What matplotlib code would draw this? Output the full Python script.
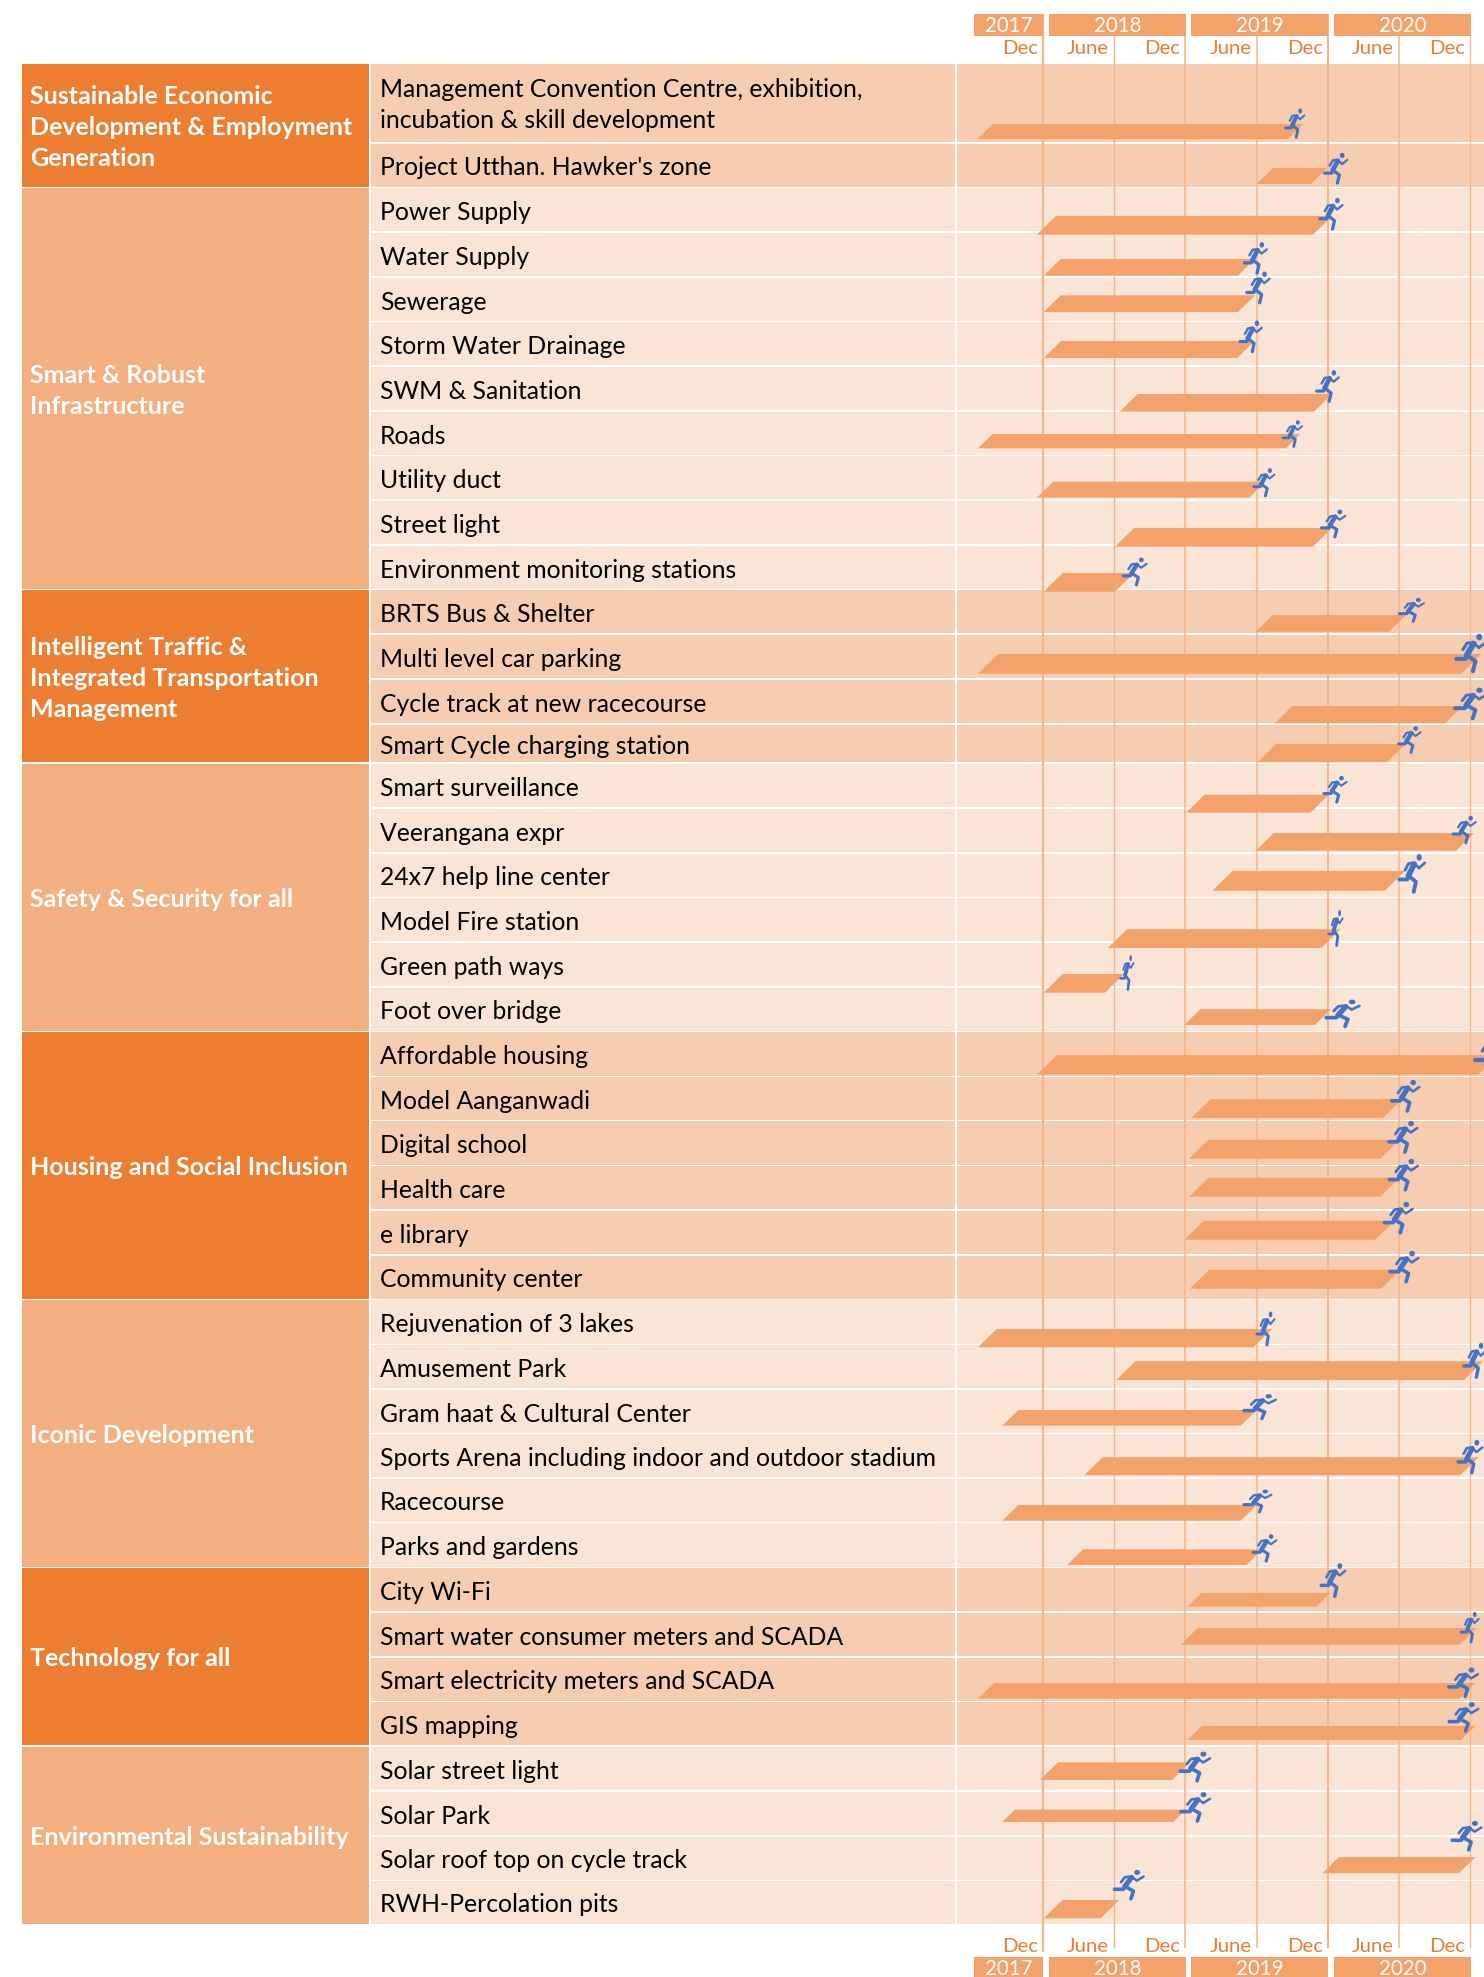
import matplotlib
matplotlib.use("Agg")
import matplotlib.pyplot as plt
from matplotlib.patches import Polygon, Rectangle, Ellipse

plt.rcParams['font.family'] = ['Lato', 'DejaVu Sans']

W, H = 1484, 1977

categories = [
    "Sustainable Economic\nDevelopment & Employment\nGeneration",
    "Smart & Robust\nInfrastructure",
    "Intelligent Traffic &\nIntegrated Transportation\nManagement",
    "Safety & Security for all",
    "Housing and Social Inclusion",
    "Iconic Development",
    "Technology for all",
    "Environmental Sustainability",
]
category_sizes = [2, 9, 4, 6, 6, 6, 4, 4]

items = [
    "Management Convention Centre, exhibition,\nincubation & skill development",
    "Project Utthan. Hawker's zone",
    "Power Supply", "Water Supply", "Sewerage", "Storm Water Drainage",
    "SWM & Sanitation", "Roads", "Utility duct", "Street light",
    "Environment monitoring stations",
    "BRTS Bus & Shelter", "Multi level car parking",
    "Cycle track at new racecourse", "Smart Cycle charging station",
    "Smart surveillance", "Veerangana expr", "24x7 help line center",
    "Model Fire station", "Green path ways", "Foot over bridge",
    "Affordable housing", "Model Aanganwadi", "Digital school", "Health care",
    "e library", "Community center",
    "Rejuvenation of 3 lakes", "Amusement Park", "Gram haat & Cultural Center",
    "Sports Arena including indoor and outdoor stadium", "Racecourse",
    "Parks and gardens",
    "City Wi-Fi", "Smart water consumer meters and SCADA",
    "Smart electricity meters and SCADA", "GIS mapping",
    "Solar street light", "Solar Park", "Solar roof top on cycle track",
    "RWH-Percolation pits",
]

# months counted from Dec 2017
bar_start = [-5.54, 18.0, -0.52, 0.06, 0.06, 0.06, 6.46, -5.48, -0.52, 6.06, 0.06,
             17.92, -5.48, 19.52, 18.06,
             12.06, 17.92, 14.27, 5.46, 0.06, 11.89,
             -0.52, 12.49, 12.29, 12.32, 11.92, 12.37,
             -5.48, 6.17, -3.42, 3.47, -3.42, 2.04,
             12.17, 11.6, -5.48, 12.17,
             -0.26, -3.42, 23.54, 0.06]
bar_end = [21.91, 23.94, 24.35, 17.86, 17.86, 17.83, 24.35, 21.68, 18.75, 24.35, 7.67,
           30.58, 36.92, 35.37, 30.55,
           24.09, 36.32, 30.49, 25.06, 6.83, 24.26,
           38.36, 30.26, 30.06, 30.06, 29.63, 30.12,
           19.29, 37.07, 18.0, 36.69, 18.0, 18.49,
           24.2, 36.52, 36.43, 36.43,
           12.4, 12.03, 36.43, 6.43]
bar_top = [124, 168, 216, 259, 295.3, 341, 394, 434, 481.7, 528, 573,
           615, 654, 706, 744,
           794.7, 833, 871, 929.3, 974, 1009.3,
           1055, 1099, 1139.7, 1177.7, 1220.7, 1269.7,
           1329, 1361.3, 1410, 1457.3, 1505, 1549.3,
           1593, 1628, 1683, 1726,
           1762.3, 1809.7, 1857, 1900]
bar_bottom = [139.3, 184, 234.7, 275.7, 312, 358, 411.7, 448.3, 497.7, 546.7, 591.7,
              631.7, 673.7, 723.3, 762.3,
              812.7, 850.7, 890.7, 948, 992.7, 1025,
              1074.7, 1118, 1158.7, 1196.7, 1239.7, 1288.7,
              1347.3, 1380, 1425.7, 1475.3, 1520.7, 1565,
              1606.7, 1644.7, 1698.7, 1740,
              1780, 1822, 1873.3, 1918.3]

run_left = [20.38, 23.66, 23.26, 16.91, 17.11, 16.54, 23.0, 20.16, 17.71, 23.4, 6.69,
            29.95, 34.74, 34.63, 29.89,
            23.6, 34.48, 29.95, 24.03, 6.49, 23.77,
            36.32, 29.31, 29.08, 29.11, 28.68, 29.17,
            17.97, 35.4, 16.85, 34.91, 16.85, 17.63,
            23.37, 35.17, 34.11, 34.14,
            11.48, 11.54, 34.4, 5.94]
run_right = [22.08, 25.7, 25.29, 18.92, 19.15, 18.49, 24.98, 21.88, 19.55, 25.52, 8.79,
             32.16, 37.38, 37.44, 31.87,
             25.64, 36.52, 32.24, 25.29, 7.67, 26.76,
             39.1, 31.78, 31.61, 31.64, 31.21, 31.7,
             19.55, 37.38, 19.7, 37.07, 19.32, 19.72,
             25.52, 36.75, 36.72, 36.75,
             14.15, 14.15, 37.01, 8.56]
run_top = [108.7, 153, 198, 242.3, 271.7, 320.7, 370.3, 420.3, 468.3, 509.7, 557.7,
           598, 634, 687.7, 726.3,
           776, 816, 854.3, 910.3, 955.3, 999.7,
           1036, 1080, 1121, 1159, 1202, 1251,
           1311.7, 1343, 1394.3, 1440, 1489.7, 1534.3,
           1563.3, 1612, 1667.7, 1702.3,
           1751.7, 1792.3, 1821, 1870]
run_bottom = [138.3, 184, 230, 274, 303.7, 352.7, 402.3, 447.3, 496.7, 537.7, 585.7,
              622, 672.3, 719.3, 753.3,
              803, 843.7, 893, 946.7, 990.7, 1027.3,
              1073, 1112, 1153, 1190.7, 1233.7, 1282.7,
              1346, 1378.3, 1419.3, 1473.7, 1512.7, 1562,
              1597.3, 1643, 1697.3, 1732,
              1781.7, 1822, 1850.7, 1899.7]

row_bottom = [143.7, 188, 232.7, 277.7, 322.3, 366.7, 411.7, 456.3, 501, 545.7, 590.3,
              634.7, 679.7, 724.7, 763.7,
              808.7, 853.7, 898, 942.7, 987.7, 1032,
              1077, 1121.3, 1166, 1210.7, 1255.7, 1300,
              1345, 1389.7, 1434.3, 1478.7, 1523.3, 1568.3,
              1612.7, 1657.7, 1702, 1746.7,
              1791.7, 1836.5, 1881, 1925]
table_top = 64

years = ["2017", "2018", "2019", "2020"]
year_start = [-5.83, 0.5, 12.47, 24.52]
year_end = [0, 12.05, 24.01, 36.06]
tick_months = [0, 6, 12, 18, 24, 30, 36]
tick_labels = ["Dec", "June", "Dec", "June", "Dec", "June", "Dec"]
tick_widths = [2.2, 1.4, 1.6, 1.5, 2.0, 1.5, 1.3]
tick_starts = [14, 36, 36, 36, 14, 36, 36]
tick_ends = [1952, 1948, 1948, 1948, 1948, 1948, 1948]

ORANGE = "#ED7D31"
ORANGE_LIGHT = "#F4AF81"
ROW_DARK = "#F6CDB1"
ROW_LIGHT = "#FAE4D6"
BAR = "#F3A26B"
LINE = "#F4B58A"
RUNNER = "#4472C4"
PX_PER_MONTH = 11.87

fig = plt.figure(figsize=(W / 100, H / 100), dpi=100)
fig.patch.set_facecolor("white")

# table part, in pixels
ax = fig.add_axes([0, 0, 1, 1])
ax.set_xlim(0, W)
ax.set_ylim(H, 0)
ax.axis("off")

# gantt part: x in months, y in pixels
gx0 = 957
gax = fig.add_axes([gx0 / W, 0, (W - gx0) / W, 1])
gax.set_xlim((gx0 - 1043) / PX_PER_MONTH, (W - 1043) / PX_PER_MONTH)
gax.set_ylim(H, 0)
gax.axis("off")
gax.patch.set_alpha(0)

row = 0
for c, name in enumerate(categories):
    n = category_sizes[c]
    top = table_top if row == 0 else row_bottom[row - 1]
    bottom = row_bottom[row + n - 1]
    dark = c % 2 == 0
    ax.add_patch(Rectangle((22, top), 347, bottom - top - 1.5, fc=ORANGE if dark else ORANGE_LIGHT, ec="none"))
    ax.text(30.5, (top + bottom) / 2 + 1.5, name, color="white", fontsize=18, fontweight="bold",
            va="center", ha="left", linespacing=1.42)
    for r in range(row, row + n):
        rtop = table_top if r == 0 else row_bottom[r - 1]
        rh = row_bottom[r] - rtop - 1.5
        col = ROW_DARK if dark else ROW_LIGHT
        ax.add_patch(Rectangle((371, rtop), 584, rh, fc=col, ec="none"))
        ax.add_patch(Rectangle((957, rtop), W - 957, rh, fc=col, ec="none"))
        if "\n" in items[r]:
            ax.text(380, (rtop + row_bottom[r]) / 2 + 1, items[r], color="black", fontsize=17.85,
                    va="center", ha="left", linespacing=1.42)
        else:
            ax.text(380, (rtop + row_bottom[r]) / 2 + 9.5, items[r], color="black", fontsize=17.85,
                    va="baseline", ha="left")
    row += n

for m, lab, lw, y0, y1 in zip(tick_months, tick_labels, tick_widths, tick_starts, tick_ends):
    gax.plot([m, m], [y0, y1], color=LINE, lw=lw * 0.72, solid_capstyle="butt", zorder=2)
    lx = m - 5 / PX_PER_MONTH
    gax.text(lx, 49, lab, color=ORANGE, fontsize=14.6, ha="right", va="center")
    gax.text(lx, 1946, lab, color=ORANGE, fontsize=14.6, ha="right", va="center")

for name, a, b in zip(years, year_start, year_end):
    gax.add_patch(Rectangle((a, 14), b - a, 22, fc=BAR, ec="none", zorder=3))
    gax.add_patch(Rectangle((a, 1957), b - a, 22, fc=BAR, ec="none", zorder=3))
    gax.text((a + b) / 2, 25.5, name, color="white", fontsize=14.8, ha="center", va="center", zorder=4)
    gax.text((a + b) / 2, 1969, name, color="white", fontsize=14.8, ha="center", va="center", zorder=4)

for a, b, t, bt in zip(bar_start, bar_end, bar_top, bar_bottom):
    s = (bt - t) * 1.02 / PX_PER_MONTH
    gax.add_patch(Polygon([(a, bt), (a + s, t), (b, t), (b - s, bt)], closed=True, fc=BAR, ec="none", zorder=5))


def runner(left, right, top, bottom):
    w = right - left
    h = bottom - top
    scale = ((w * PX_PER_MONTH) * h) ** 0.5 / 27.0

    def pts(seq):
        return [left + u * w for u, v in seq], [top + v * h for u, v in seq]

    torso = [(.58, .25), (.36, .56)]
    back_arm = [(.56, .22), (.37, .24), (.24, .41)]
    front_arm = [(.60, .24), (.75, .36), (.97, .22)]
    rear_leg = [(.38, .56), (.32, .65), (.03, .65)]
    front_leg = [(.38, .56), (.64, .71), (.56, .97)]
    for seq, lw in [(torso, 4.6), (back_arm, 2.4), (front_arm, 2.2), (rear_leg, 3.2), (front_leg, 3.2)]:
        xs, ys = pts(seq)
        gax.plot(xs, ys, color=RUNNER, lw=lw * scale * 0.72, solid_capstyle="round",
                 solid_joinstyle="round", zorder=6)
    gax.add_patch(Ellipse((left + .76 * w, top + .08 * h), .19 * w, .17 * h, fc=RUNNER, ec="none", zorder=6))


for l, r, t, b in zip(run_left, run_right, run_top, run_bottom):
    runner(l, r, t, b)

fig.savefig("out.png", dpi=100)
